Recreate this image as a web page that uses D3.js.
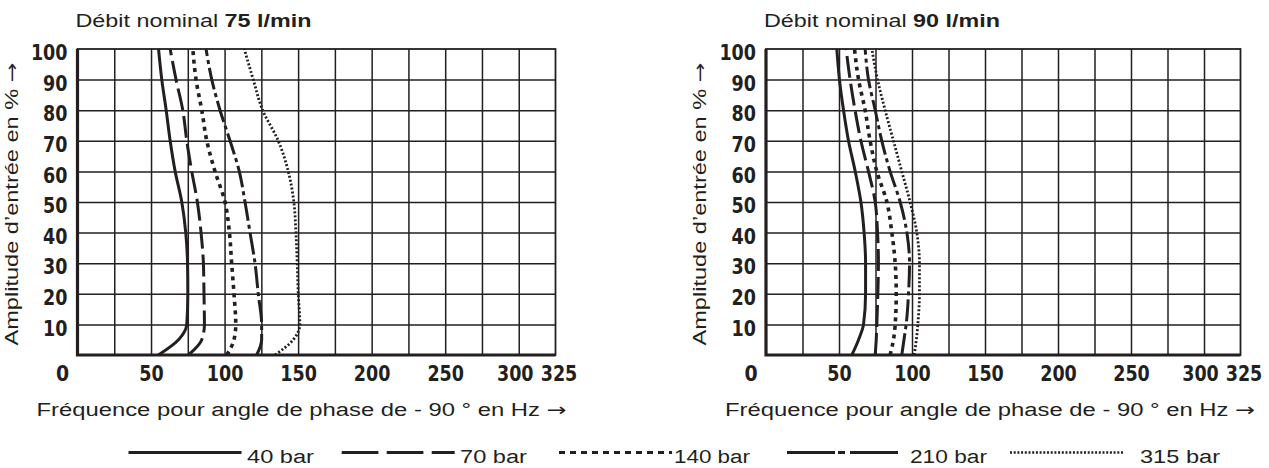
<!DOCTYPE html>
<html>
<head>
<meta charset="utf-8">
<script src="https://cdn.jsdelivr.net/npm/d3@7"></script>
<style>
  body { margin: 0; background: #fff; }
  text { fill: #231f20; }
</style>
</head>
<body>
<svg id="chart" width="1269" height="468"></svg>
<script>
// amplitude levels (%) where the curves were read
var amplitudes = [0, 5, 10, 20, 30, 40, 50, 60, 70, 80, 90, 100];

// 75 l/min : frequency (Hz) at each amplitude
var f75_40  = [55, 68.7, 74.3, 75, 74.8, 73.6, 70.9, 66.4, 63, 60.3, 57.3, 55.1];
var f75_70  = [75.4, 84.5, 86.3, 86, 85.6, 84, 81.5, 77.7, 74.3, 71.6, 67, 63];
var f75_140 = [101.5, 106.4, 107.6, 106.4, 104.8, 103.3, 100.3, 93.5, 87.9, 84.5, 80.6, 78.4];
var f75_210 = [121.8, 125.2, 125.2, 122.9, 120.7, 117.3, 113.9, 110, 103.7, 96.9, 91.3, 87.4];
var f75_315 = [134.3, 146.7, 151.2, 150.1, 149.4, 148.5, 147.1, 143.3, 136.5, 125.9, 119.5, 113.4];

// 90 l/min
var f90_40  = [58.8, 63.4, 66.8, 68.2, 68.2, 67.2, 65, 61.1, 56.5, 53.1, 50.3, 48.5];
var f90_70  = [74.8, 75.5, 75.9, 76.6, 77, 76.4, 74.8, 70.2, 65, 61, 57.6, 54.9];
var f90_140 = [85, 87.3, 88.5, 89.2, 88.5, 86.2, 82.8, 75.9, 71.3, 67.9, 63.4, 60.6];
var f90_210 = [93, 94.5, 96, 97.6, 98.3, 96.5, 91.9, 85, 79.3, 74.8, 70.2, 67.9];
var f90_315 = [101.5, 103, 104, 105.1, 105.1, 103.3, 98.7, 93, 87.3, 81.6, 76.4, 72.5];

var pressures = ["40 bar", "70 bar", "140 bar", "210 bar", "315 bar"];
var xTicks = [50, 100, 150, 200, 250, 300, 325];
var yTicks = [10, 20, 30, 40, 50, 60, 70, 80, 90, 100];

var dashes = ["none", "22,6", "4,4.5", "22,4,4,4", "2,2"];
var widths = [3, 3, 3.6, 3, 2.8];

var svg = d3.select("#chart");
var ink = "#231f20";
var yTop = 49, yBot = 355;
var sans = "'Liberation Sans', Arial, sans-serif";
var tickFont = "'DejaVu Sans Condensed', 'DejaVu Sans', sans-serif";

var panels = [
  { x0: 77.5, x1: 555.5, rate: "75 l/min", curves: [f75_40, f75_70, f75_140, f75_210, f75_315] },
  { x0: 766, x1: 1240.5, rate: "90 l/min", curves: [f90_40, f90_70, f90_140, f90_210, f90_315] }
];

panels.forEach(function(p) {
  var x = d3.scaleLinear().domain([0, 325]).range([p.x0, p.x1]);
  var y = d3.scaleLinear().domain([0, 100]).range([yBot, yTop]);
  var g = svg.append("g");

  // grid
  g.append("g")
      .attr("transform", "translate(0," + yBot + ")")
      .call(d3.axisBottom(x).tickValues(d3.range(25, 325, 25)).tickSize(-(yBot - yTop)).tickFormat(""))
      .call(s => s.select(".domain").remove())
      .selectAll("line").attr("stroke", ink).attr("stroke-width", 1.5);
  g.append("g")
      .attr("transform", "translate(" + p.x0 + ",0)")
      .call(d3.axisLeft(y).tickValues(d3.range(10, 100, 10)).tickSize(-(p.x1 - p.x0)).tickFormat(""))
      .call(s => s.select(".domain").remove())
      .selectAll("line").attr("stroke", ink).attr("stroke-width", 1.5);

  // frame
  g.append("rect")
      .attr("x", p.x0).attr("y", yTop)
      .attr("width", p.x1 - p.x0).attr("height", yBot - yTop)
      .attr("fill", "none").attr("stroke", ink).attr("stroke-width", 1.8);
  g.append("path")
      .attr("d", "M" + p.x0 + "," + yTop + "V" + yBot + "H" + p.x1)
      .attr("fill", "none").attr("stroke", ink).attr("stroke-width", 3.2);

  // curves
  var line = d3.line()
      .x(function(d) { return x(d[0]); })
      .y(function(d) { return y(d[1]); })
      .curve(d3.curveMonotoneY);
  p.curves.forEach(function(c, i) {
    g.append("path")
        .datum(c.map(function(f, k) { return [f, amplitudes[k]]; }))
        .attr("d", line)
        .attr("fill", "none")
        .attr("stroke", ink)
        .attr("stroke-width", widths[i])
        .attr("stroke-dasharray", dashes[i]);
  });

  // tick labels
  g.append("g")
      .attr("transform", "translate(0," + yBot + ")")
      .call(d3.axisBottom(x).tickValues(xTicks).tickSize(0).tickPadding(0))
      .call(s => s.select(".domain").remove())
      .selectAll("text")
      .attr("y", 26)
      .attr("dy", 0)
      .attr("dx", d => d === 300 ? -4 : d === 325 ? 3 : 0)
      .style("font-family", tickFont).style("font-weight", "bold").style("font-size", "21px")
      .attr("textLength", d => String(d).length * 12.2)
      .attr("lengthAdjust", "spacingAndGlyphs");
  g.append("g")
      .attr("transform", "translate(" + p.x0 + ",0)")
      .call(d3.axisLeft(y).tickValues(yTicks).tickSize(0).tickPadding(10))
      .call(s => s.select(".domain").remove())
      .selectAll("text")
      .attr("dy", "0.51em")
      .style("font-family", tickFont).style("font-weight", "bold").style("font-size", "21px")
      .attr("textLength", d => String(d).length * 12.2)
      .attr("lengthAdjust", "spacingAndGlyphs");
  g.append("text")
      .attr("x", p.x0 - 15).attr("y", yBot + 26)
      .attr("text-anchor", "middle")
      .style("font-family", tickFont).style("font-weight", "bold").style("font-size", "21px")
      .text("0");

  // titles
  var t = g.append("text")
      .attr("x", p.x0 - 2).attr("y", 27)
      .style("font-family", sans).style("font-size", "17.5px")
      .attr("textLength", 236).attr("lengthAdjust", "spacingAndGlyphs");
  t.append("tspan").text("Débit nominal ");
  t.append("tspan").style("font-weight", "bold").text(p.rate);

  var xt = g.append("text")
      .attr("x", p.x0 - 41).attr("y", 416)
      .style("font-family", sans).style("font-size", "18px")
      .attr("textLength", 530).attr("lengthAdjust", "spacingAndGlyphs");
  xt.append("tspan").text("Fréquence pour angle de phase de - 90 ° en Hz ");
  xt.append("tspan").style("font-family", "'DejaVu Sans', sans-serif").text("→");

  var yt = g.append("text")
      .attr("transform", "translate(" + (p.x0 - 60) + "," + ((yTop + yBot) / 2 + 2) + ") rotate(-90)")
      .attr("text-anchor", "middle")
      .style("font-family", sans).style("font-size", "18px")
      .attr("textLength", 283).attr("lengthAdjust", "spacingAndGlyphs");
  yt.append("tspan").text("Amplitude d’entrée en % ");
  yt.append("tspan").style("font-family", "'DejaVu Sans', sans-serif").text("→");
});

// legend
var legendX = [128.5, 341.7, 559, 787, 1010];
var legendTextX = [247, 460, 674, 910, 1140];
var legendTextW = [67, 67, 76, 77, 80];
var legendDash = ["none", "36.7,8.3", "6,5", "48,3,7,5,48", "2,1.7"];
var legendW = [3, 3, 3, 3, 2.5];
var ly = 452.5;

pressures.forEach(function(name, i) {
  svg.append("line")
      .attr("x1", legendX[i]).attr("x2", legendX[i] + 113)
      .attr("y1", ly).attr("y2", ly)
      .attr("stroke", ink).attr("stroke-width", legendW[i])
      .attr("stroke-dasharray", legendDash[i]);
  svg.append("text")
      .attr("x", legendTextX[i]).attr("y", 462.5)
      .style("font-family", sans).style("font-size", "18px")
      .attr("textLength", legendTextW[i]).attr("lengthAdjust", "spacingAndGlyphs")
      .text(name);
});
</script>
</body>
</html>
